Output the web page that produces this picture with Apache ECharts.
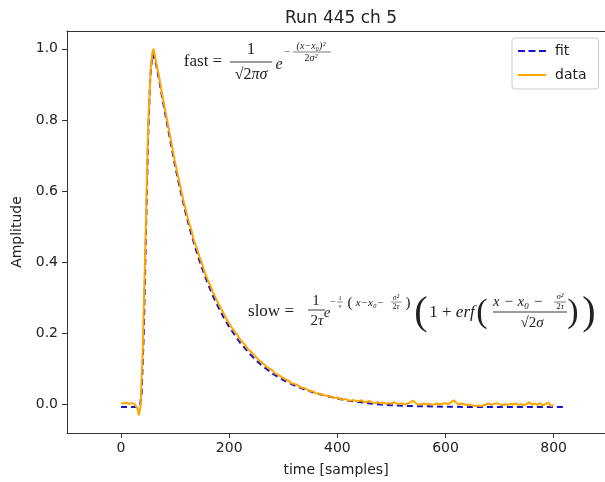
<!DOCTYPE html>
<html>
<head>
<meta charset="utf-8">
<script src="https://cdn.jsdelivr.net/npm/echarts@6/dist/echarts.min.js"></script>
<style>html,body{margin:0;padding:0;background:#fff}#c{width:605px;height:482px}</style>
</head>
<body>
<div id="c"></div>
<script>
// ---- data ----
const fitT = [0,30,35,38,42,46,50,54,58,61,65,70,80,90,100,110,120,130,140,150,160,170,180,190,200,220,240,260,280,300,320,340,360,380,400,420,440,460,480,500,530,560,600,650,700,760,820];
const fitA = [-0.007,-0.007,-0.003,0.03,0.2,0.48,0.75,0.92,0.985,0.985,0.955,0.915,0.83,0.75,0.67,0.6,0.535,0.478,0.428,0.382,0.342,0.305,0.273,0.244,0.218,0.174,0.139,0.11,0.087,0.069,0.054,0.042,0.032,0.024,0.017,0.011,0.007,0.003,0.0,-0.002,-0.004,-0.005,-0.006,-0.007,-0.007,-0.007,-0.007];

const dataT = [0,5,10,15,20,25,30,33,36,40,45,50,55,58,60,62,65,70,75,80,85,90,95,100,105,110,115,120,125,130,135,140,145,150,155,160,165,170,175,180,185,190,195,200,205,210,215,220,225,230,235,240,245,250,255,260,265,270,275,280,285,290,295,300,305,310,315,320,325,330,335,340,345,350,355,360,365,370,375,380,385,390,395,400,405,410,415,420,425,430,435,440,445,450,455,460,465,470,475,480,485,490,495,500,505,510,515,520,525,530,535,540,545,550,555,560,565,570,575,580,585,590,595,600,605,610,615,620,625,630,635,640,645,650,655,660,665,670,675,680,685,690,695,700,705,710,715,720,725,730,735,740,745,750,755,760,765,770,775,780,785,790,795,800];
const dataA = [0.004,0.003,0.005,0.002,0.004,0.001,-0.01,-0.03,-0.005,0.15,0.45,0.78,0.95,0.99,1.0,0.985,0.96,0.925,0.88,0.84,0.80,0.76,0.72,0.68,0.645,0.61,0.575,0.545,0.515,0.49,0.46,0.44,0.415,0.395,0.37,0.352,0.335,0.315,0.30,0.283,0.27,0.255,0.24,0.228,0.216,0.205,0.196,0.183,0.175,0.166,0.155,0.149,0.14,0.133,0.124,0.119,0.112,0.105,0.1,0.096,0.087,0.084,0.079,0.074,0.07,0.067,0.06,0.058,0.056,0.05,0.047,0.046,0.041,0.038,0.037,0.032,0.031,0.029,0.026,0.025,0.024,0.02,0.019,0.02,0.015,0.014,0.016,0.012,0.011,0.013,0.009,0.01,0.012,0.006,0.008,0.01,0.005,0.004,0.007,0.003,0.006,0.002,0.004,0.003,0.007,0.002,0.001,0.004,0.0,0.003,0.006,0.011,0.004,-0.001,0.001,0.003,0.0,0.002,-0.001,0.001,0.003,0.0,0.002,0.004,0.001,0.006,0.012,0.005,0.0,0.003,0.001,-0.002,0.0,-0.003,-0.004,-0.003,-0.004,-0.002,0.0,0.003,-0.001,0.002,0.004,0.001,-0.002,0.001,-0.001,0.002,0.0,0.003,-0.001,0.001,-0.002,0.002,0.006,0.0,0.003,-0.001,0.004,-0.003,0.002,0.005,-0.004,-0.002];

const xTicks = [0,200,400,600,800];
const yTicks = [0.0,0.2,0.4,0.6,0.8,1.0];
const titleText = 'Run 445 ch 5';
const xName = 'time [samples]';
const yName = 'Amplitude';
const seriesNames = ['fit','data'];

// ---- helpers for formula annotations ----
const SERIF = '"Liberation Serif","DejaVu Serif",serif';
const INK = '#222';
function tx(x, y, s, size, italic) {
  return {type:'text', x:x, y:y, z:50, silent:true, style:{text:s, fontFamily:SERIF, fontSize:size, fontStyle: italic?'italic':'normal', fill:INK, align:'center', verticalAlign:'middle'}};
}
function rt(x, y, s, size) {
  return {type:'text', x:x, y:y, z:50, silent:true, style:{text:s, fontFamily:SERIF, fontSize:size, fill:INK, align:'center', verticalAlign:'middle',
    rich:{u:{fontFamily:SERIF, fontSize:size, fill:INK}, i:{fontFamily:SERIF, fontSize:size, fontStyle:'italic', fill:INK}}}};
}
function bar(x1, x2, y, w) {
  return {type:'line', z:50, silent:true, shape:{x1:x1, y1:y, x2:x2, y2:y}, style:{stroke:INK, lineWidth:w||0.9}};
}
const formula = [
  // fast
  tx(203, 62, 'fast =', 17),
  tx(251, 50, '1', 16),
  bar(230, 272, 62),
  rt(251, 75, '{u|√2}{i|πσ}', 16),
  tx(279, 65, 'e', 16, true),
  tx(287, 52, '−', 10),
  tx(311, 46, '(x−x₀)²', 10, true),
  bar(293, 331, 52, 0.6),
  rt(311, 58, '{u|2}{i|σ²}', 10),
  // slow
  tx(271, 312, 'slow =', 17),
  tx(316, 301, '1', 15),
  bar(308, 325, 310),
  rt(317, 321, '{u|2}{i|τ}', 15),
  tx(327, 313, 'e', 15, true),
  tx(333, 302, '−', 10),
  tx(340, 298, '1', 7),
  bar(337, 343, 302, 0.5),
  tx(340, 306, 'τ', 7, true),
  tx(350, 303, '(', 15),
  tx(370, 303, 'x−x₀−', 11, true),
  tx(396, 298, 'σ²', 8, true),
  bar(391, 402, 302, 0.5),
  rt(396, 307, '{u|2}{i|τ}', 8),
  tx(408, 303, ')', 15),
  tx(421, 313, '(', 40),
  rt(452, 313, '{u|1 + }{i|erf}', 17),
  tx(482, 313, '(', 34),
  rt(520, 302, '{i|x − x₀ − }', 15),
  tx(560, 297, 'σ²', 9, true),
  bar(554, 566, 302, 0.6),
  rt(560, 307, '{u|2}{i|τ}', 9),
  bar(493, 567, 312),
  rt(532, 323, '{u|√2}{i|σ}', 15),
  tx(573, 313, ')', 34),
  tx(589, 313, ')', 40)
];

const chart = echarts.init(document.getElementById('c'), null, {renderer:'canvas'});
const fitData = fitT.map((t,i)=>[t, fitA[i]]);
const dataData = dataT.map((t,i)=>[t, dataA[i]]);
const AX = '#333';
const LBL = '#222';
const FONT = '"DejaVu Sans", sans-serif';
chart.setOption({
  animation:false,
  backgroundColor:'#fff',
  title:{text:titleText, left:336, textAlign:'center', top:5, textStyle:{fontFamily:FONT, fontSize:17, fontWeight:'normal', color:LBL}},
  grid:{left:67, top:31, width:538, height:402, containLabel:false},
  legend:{
    data:[
      {name:seriesNames[0], icon:'path://M0,0h7v2h-7z M10.5,0h7v2h-7z M21,0h7v2h-7z', itemStyle:{color:'#1414cc'}},
      {name:seriesNames[1], icon:'path://M0,0h28v2h-28z', itemStyle:{color:'#FFA500'}}
    ],
    orient:'vertical', left:512, top:38,
    backgroundColor:'#fff', borderColor:'#ccc', borderWidth:1, borderRadius:3,
    padding:[6,12,7,6], itemGap:10, itemWidth:28, itemHeight:2,
    textStyle:{fontFamily:FONT, fontSize:14, color:LBL, padding:[0,0,0,4]}
  },
  xAxis:[{
    type:'value', min:-100, max:895,
    name:xName, nameLocation:'middle', nameGap:30,
    nameTextStyle:{fontFamily:FONT, fontSize:14, color:LBL},
    axisLine:{show:true, onZero:false, lineStyle:{color:AX, width:1}},
    axisTick:{show:true, customValues:xTicks, length:5, lineStyle:{color:AX}},
    axisLabel:{customValues:xTicks, fontFamily:FONT, fontSize:14, color:LBL, margin:8},
    splitLine:{show:false}
  },{
    type:'value', min:-100, max:895, position:'top',
    axisLine:{show:true, onZero:false, lineStyle:{color:AX, width:1}},
    axisTick:{show:false}, axisLabel:{show:false}, splitLine:{show:false}
  }],
  yAxis:{
    type:'value', min:-0.08, max:1.05,
    name:yName, nameLocation:'middle', nameGap:43,
    nameTextStyle:{fontFamily:FONT, fontSize:14, color:LBL},
    axisLine:{show:true, onZero:false, lineStyle:{color:AX, width:1}},
    axisTick:{show:true, customValues:yTicks, length:5, lineStyle:{color:AX}},
    axisLabel:{customValues:yTicks, fontFamily:FONT, fontSize:14, color:LBL, margin:9, formatter:v=>v.toFixed(1)},
    splitLine:{show:false}
  },
  series:[
    {name:seriesNames[0], type:'line', data:fitData, showSymbol:false, symbol:'none', z:2,
      color:'#1414cc', lineStyle:{color:'#1414cc', width:2, type:[6,4]}},
    {name:seriesNames[1], type:'line', data:dataData, showSymbol:false, symbol:'none', z:3,
      color:'#FFA500', lineStyle:{color:'#FFA500', width:2}}
  ],
  graphic:formula
});
</script>
</body>
</html>
